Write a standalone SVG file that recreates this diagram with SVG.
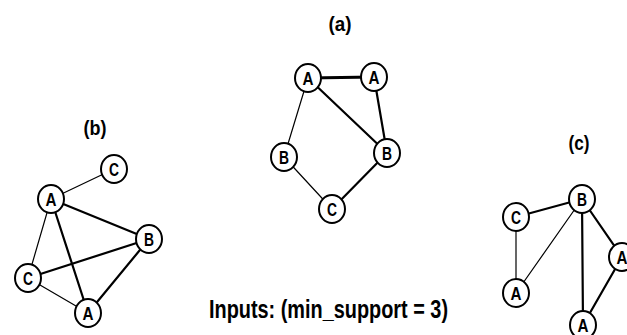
<svg xmlns="http://www.w3.org/2000/svg" width="627" height="335" viewBox="0 0 627 335">
<style>
.n ellipse{fill:#fff;stroke:#000;stroke-width:2}
.n text{font-family:"Liberation Sans",Arial,sans-serif;font-weight:bold;font-size:19px;text-anchor:middle;fill:#000}
.lbl{font-family:"Liberation Sans",Arial,sans-serif;font-weight:bold;font-size:21px;text-anchor:middle;fill:#000}
.e line{stroke:#000;stroke-linecap:round}
.t1{stroke-width:1.2}
.t2{stroke-width:2.2}
.t3{stroke-width:3}
</style>
<rect width="627" height="335" fill="#fff"/>
<text class="lbl" x="340" y="31" textLength="23" lengthAdjust="spacingAndGlyphs">(a)</text>
<text class="lbl" x="95" y="135" textLength="23" lengthAdjust="spacingAndGlyphs">(b)</text>
<text class="lbl" x="579" y="150" textLength="21" lengthAdjust="spacingAndGlyphs">(c)</text>
<text class="lbl" x="209" y="318" style="text-anchor:start;font-size:25px" textLength="239" lengthAdjust="spacingAndGlyphs">Inputs: (min_support = 3)</text>
<g id="connectors" class="e">
<line class="t3" x1="308" y1="78" x2="374" y2="77"/>
<line class="t1" x1="308" y1="78" x2="284" y2="157"/>
<line class="t2" x1="308" y1="78" x2="387" y2="153"/>
<line class="t2" x1="374" y1="77" x2="387" y2="153"/>
<line class="t1" x1="284" y1="157" x2="332" y2="209"/>
<line class="t2" x1="332" y1="209" x2="387" y2="153"/>
<line class="t1" x1="51" y1="199" x2="114" y2="169"/>
<line class="t2" x1="51" y1="199" x2="149" y2="239"/>
<line class="t1" x1="51" y1="199" x2="28" y2="278"/>
<line class="t2" x1="51" y1="199" x2="88" y2="313"/>
<line class="t2" x1="28" y1="278" x2="149" y2="239"/>
<line class="t1" x1="28" y1="278" x2="88" y2="313"/>
<line class="t2" x1="88" y1="313" x2="149" y2="239"/>
<line class="t2" x1="516" y1="217" x2="582" y2="199"/>
<line class="t1" x1="516" y1="217" x2="516" y2="293"/>
<line class="t1" x1="516" y1="293" x2="582" y2="199"/>
<line class="t2" x1="582" y1="199" x2="583" y2="325"/>
<line class="t2" x1="582" y1="199" x2="622" y2="257"/>
<line class="t2" x1="622" y1="257" x2="583" y2="325"/>
</g>
<g id="a-A1" class="n"><ellipse cx="308" cy="78" rx="13" ry="14"/><text x="308" y="85" textLength="11" lengthAdjust="spacingAndGlyphs">A</text></g>
<g id="a-A2" class="n"><ellipse cx="374" cy="77" rx="13" ry="14"/><text x="374" y="84" textLength="11" lengthAdjust="spacingAndGlyphs">A</text></g>
<g id="a-B1" class="n"><ellipse cx="284" cy="157" rx="13" ry="14"/><text x="284" y="164" textLength="10" lengthAdjust="spacingAndGlyphs">B</text></g>
<g id="a-B2" class="n"><ellipse cx="387" cy="153" rx="13" ry="14"/><text x="387" y="160" textLength="10" lengthAdjust="spacingAndGlyphs">B</text></g>
<g id="a-C" class="n"><ellipse cx="332" cy="209" rx="13" ry="14"/><text x="332" y="216" textLength="10" lengthAdjust="spacingAndGlyphs">C</text></g>
<g id="b-C1" class="n"><ellipse cx="114" cy="169" rx="13" ry="14"/><text x="114" y="176" textLength="10" lengthAdjust="spacingAndGlyphs">C</text></g>
<g id="b-A1" class="n"><ellipse cx="51" cy="199" rx="13" ry="14"/><text x="51" y="206" textLength="11" lengthAdjust="spacingAndGlyphs">A</text></g>
<g id="b-B" class="n"><ellipse cx="149" cy="239" rx="13" ry="14"/><text x="149" y="246" textLength="10" lengthAdjust="spacingAndGlyphs">B</text></g>
<g id="b-C2" class="n"><ellipse cx="28" cy="278" rx="13" ry="14"/><text x="28" y="285" textLength="10" lengthAdjust="spacingAndGlyphs">C</text></g>
<g id="b-A2" class="n"><ellipse cx="88" cy="313" rx="13" ry="14"/><text x="88" y="320" textLength="11" lengthAdjust="spacingAndGlyphs">A</text></g>
<g id="c-C" class="n"><ellipse cx="516" cy="217" rx="13" ry="14"/><text x="516" y="224" textLength="10" lengthAdjust="spacingAndGlyphs">C</text></g>
<g id="c-B" class="n"><ellipse cx="582" cy="199" rx="13" ry="14"/><text x="582" y="206" textLength="10" lengthAdjust="spacingAndGlyphs">B</text></g>
<g id="c-A1" class="n"><ellipse cx="516" cy="293" rx="13" ry="14"/><text x="516" y="300" textLength="11" lengthAdjust="spacingAndGlyphs">A</text></g>
<g id="c-A2" class="n"><ellipse cx="622" cy="257" rx="13" ry="14"/><text x="622" y="264" textLength="11" lengthAdjust="spacingAndGlyphs">A</text></g>
<g id="c-A3" class="n"><ellipse cx="583" cy="325" rx="13" ry="14"/><text x="583" y="332" textLength="11" lengthAdjust="spacingAndGlyphs">A</text></g>
</svg>
